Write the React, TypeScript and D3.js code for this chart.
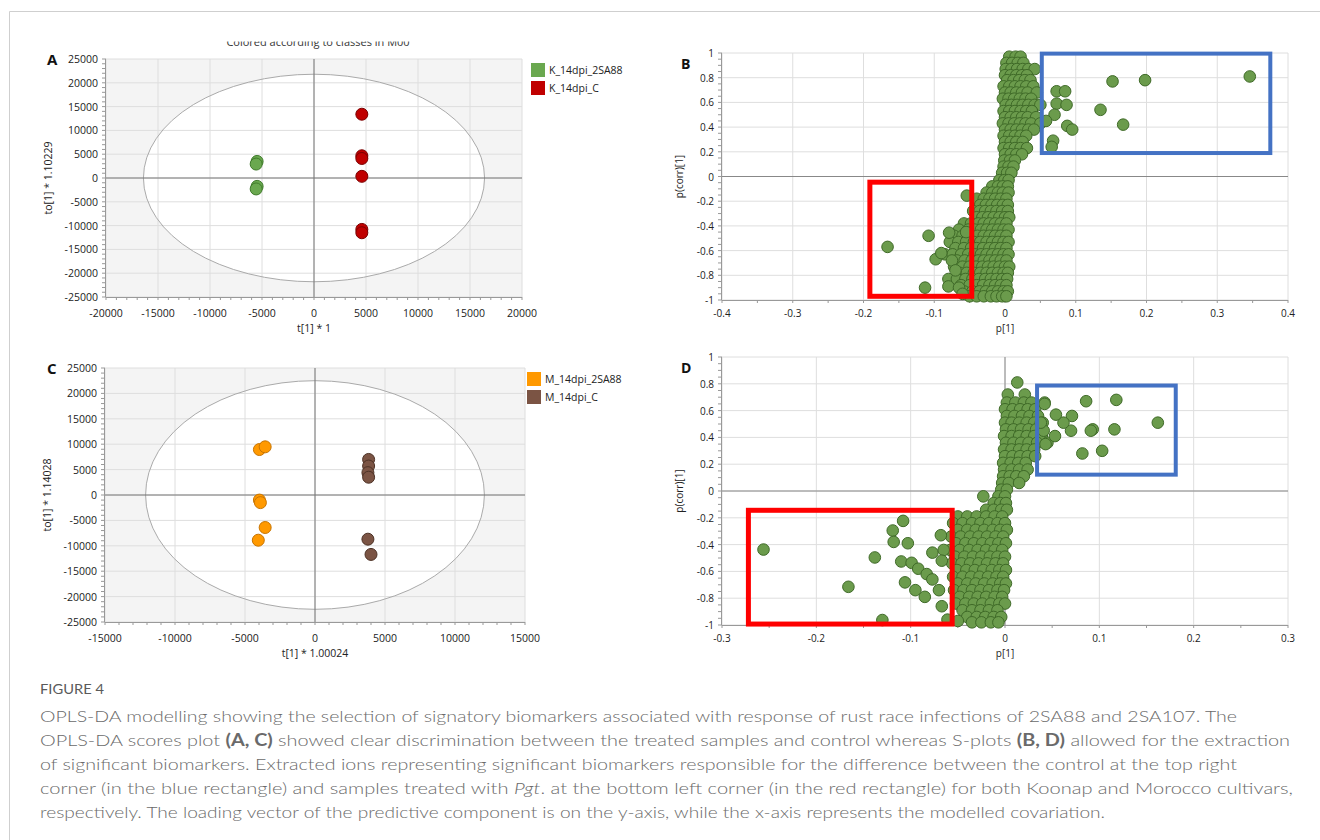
import React from 'react'
import * as d3 from 'd3'

type Pt = [number, number]
type Row = [number, number[]]

// ---- panel A / C scores ----
const aLegend = ['K_14dpi_2SA88', 'K_14dpi_C']
const aGreen: Pt[] = [[-5470, 3480], [-5560, 2930], [-5470, -1760], [-5560, -2300]]
const aRed: Pt[] = [[4600, 13400], [4600, 4670], [4600, 4100], [4600, 350], [4600, -10800], [4600, -11500]]
const aEllipse = [16400, 21800]

const cLegend = ['M_14dpi_2SA88', 'M_14dpi_C']
const cOrange: Pt[] = [[-3970, 8950], [-3560, 9480], [-3970, -1000], [-3900, -1500], [-3560, -6400], [-4050, -8900]]
const cBrown: Pt[] = [[3830, 7000], [3830, 5700], [3780, 4400], [3830, 3500], [3780, -8700], [4000, -11700]]
const cEllipse = [12100, 22500]

// ---- panel B S-plot (pcorr row -> p values) ----
const bRows: Row[] = [
  [0.97, [0.006, 0.015, 0.022]],
  [0.92, [0.002, 0.01, 0.018, 0.026]],
  [0.87, [0.001, 0.009, 0.017, 0.025, 0.033, 0.042]],
  [0.82, [0.0, 0.008, 0.016, 0.024, 0.031]],
  [0.78, [0.003, 0.012, 0.02, 0.028, 0.036]],
  [0.73, [-0.002, 0.006, 0.014, 0.022, 0.03, 0.04]],
  [0.68, [0.0, 0.008, 0.016, 0.024, 0.032, 0.045]],
  [0.63, [-0.003, 0.005, 0.013, 0.021, 0.029, 0.037]],
  [0.58, [0.001, 0.009, 0.017, 0.025, 0.033, 0.042, 0.05]],
  [0.53, [-0.002, 0.006, 0.014, 0.022, 0.03, 0.038]],
  [0.48, [0.0, 0.008, 0.016, 0.024, 0.032, 0.044]],
  [0.43, [-0.003, 0.005, 0.013, 0.021, 0.029, 0.037, 0.05]],
  [0.38, [0.0, 0.008, 0.016, 0.024, 0.033, 0.041]],
  [0.33, [-0.002, 0.006, 0.014, 0.022, 0.03]],
  [0.28, [0.0, 0.008, 0.016, 0.025]],
  [0.23, [-0.002, 0.006, 0.014, 0.022, 0.031]],
  [0.18, [0.0, 0.008, 0.016, 0.024]],
  [0.13, [-0.001, 0.007, 0.014]],
  [0.08, [-0.002, 0.005, 0.012]],
  [0.03, [-0.004, 0.003, 0.009]],
  [-0.03, [-0.008, -0.001, 0.005]],
  [-0.08, [-0.018, -0.01, -0.003, 0.004]],
  [-0.13, [-0.026, -0.018, -0.01, -0.003, 0.005]],
  [-0.18, [-0.04, -0.03, -0.022, -0.014, -0.006, 0.002]],
  [-0.23, [-0.035, -0.027, -0.019, -0.011, -0.003, 0.004]],
  [-0.28, [-0.045, -0.036, -0.028, -0.02, -0.012, -0.004, 0.004]],
  [-0.33, [-0.04, -0.032, -0.024, -0.016, -0.008, 0.0, 0.006]],
  [-0.38, [-0.058, -0.048, -0.038, -0.03, -0.022, -0.014, -0.006, 0.002]],
  [-0.43, [-0.065, -0.052, -0.043, -0.034, -0.026, -0.018, -0.01, -0.002, 0.005]],
  [-0.48, [-0.072, -0.06, -0.048, -0.039, -0.03, -0.022, -0.014, -0.006, 0.002]],
  [-0.53, [-0.078, -0.066, -0.055, -0.044, -0.035, -0.026, -0.018, -0.01, -0.002, 0.005]],
  [-0.58, [-0.07, -0.058, -0.048, -0.04, -0.031, -0.022, -0.014, -0.006, 0.002]],
  [-0.63, [-0.085, -0.074, -0.062, -0.052, -0.043, -0.034, -0.026, -0.018, -0.01, -0.002, 0.005]],
  [-0.68, [-0.068, -0.057, -0.047, -0.038, -0.03, -0.022, -0.014, -0.006, 0.002]],
  [-0.73, [-0.072, -0.06, -0.05, -0.041, -0.032, -0.024, -0.016, -0.008, 0.0, 0.006]],
  [-0.78, [-0.064, -0.054, -0.044, -0.035, -0.026, -0.018, -0.01, -0.002, 0.004]],
  [-0.83, [-0.08, -0.068, -0.056, -0.046, -0.037, -0.028, -0.02, -0.012, -0.004, 0.003]],
  [-0.88, [-0.062, -0.05, -0.04, -0.031, -0.022, -0.014, -0.006, 0.002]],
  [-0.93, [-0.058, -0.046, -0.036, -0.027, -0.018, -0.01, -0.002, 0.004]],
  [-0.97, [-0.05, -0.04, -0.03, -0.02, -0.012, -0.004, 0.002]],
]
const bOutliers: Pt[] = [
  [0.346, 0.81], [0.198, 0.78], [0.152, 0.77], [0.135, 0.54], [0.167, 0.42],
  [0.073, 0.69], [0.085, 0.69], [0.073, 0.59], [0.087, 0.58], [0.07, 0.5],
  [0.088, 0.41], [0.095, 0.38], [0.068, 0.29], [0.066, 0.24], [0.058, 0.45],
  [-0.166, -0.57], [-0.108, -0.48], [-0.098, -0.67], [-0.113, -0.9], [-0.08, -0.89],
  [-0.054, -0.155], [-0.079, -0.455], [-0.09, -0.62], [-0.075, -0.68], [-0.07, -0.76],
  [-0.065, -0.9], [-0.06, -0.95], [-0.055, -0.45],
]
const bBlueBox = [0.052, 0.375, 0.19, 0.995]
const bRedBox = [-0.191, -0.047, -0.97, -0.046]

// ---- panel D S-plot ----
const dRows: Row[] = [
  [0.81, [0.013]],
  [0.72, [0.003, 0.021]],
  [0.66, [0.002, 0.011, 0.02, 0.028, 0.042]],
  [0.61, [0.0, 0.008, 0.016, 0.024, 0.032]],
  [0.56, [0.002, 0.01, 0.018, 0.026, 0.035]],
  [0.51, [0.0, 0.007, 0.015, 0.023, 0.031, 0.04]],
  [0.46, [0.001, 0.009, 0.017, 0.025, 0.033]],
  [0.41, [-0.001, 0.007, 0.015, 0.023, 0.031, 0.039]],
  [0.36, [0.001, 0.009, 0.017, 0.025, 0.034, 0.045]],
  [0.31, [-0.001, 0.007, 0.015, 0.023, 0.031]],
  [0.26, [0.0, 0.008, 0.016, 0.024, 0.032]],
  [0.21, [-0.002, 0.006, 0.014, 0.022]],
  [0.16, [-0.001, 0.007, 0.015, 0.024]],
  [0.11, [-0.002, 0.005, 0.012, 0.02]],
  [0.06, [-0.003, 0.004, 0.015]],
  [0.01, [-0.004, 0.002]],
  [-0.04, [-0.023, -0.007, 0.0]],
  [-0.09, [-0.012, -0.005, 0.001]],
  [-0.14, [-0.02, -0.012, -0.004, 0.002]],
  [-0.19, [-0.05, -0.04, -0.03, -0.02, -0.011, -0.003]],
  [-0.24, [-0.055, -0.045, -0.035, -0.026, -0.017, -0.008, 0.0]],
  [-0.29, [-0.05, -0.04, -0.031, -0.022, -0.013, -0.005, 0.002]],
  [-0.34, [-0.057, -0.047, -0.037, -0.028, -0.019, -0.01, -0.002]],
  [-0.39, [-0.052, -0.042, -0.033, -0.024, -0.015, -0.007, 0.001]],
  [-0.44, [-0.058, -0.048, -0.038, -0.029, -0.02, -0.011, -0.003]],
  [-0.49, [-0.053, -0.043, -0.034, -0.025, -0.016, -0.008, 0.0]],
  [-0.54, [-0.056, -0.046, -0.037, -0.028, -0.019, -0.01, -0.002]],
  [-0.59, [-0.051, -0.041, -0.032, -0.023, -0.014, -0.006, 0.001]],
  [-0.64, [-0.055, -0.045, -0.036, -0.027, -0.018, -0.009, -0.002]],
  [-0.69, [-0.05, -0.04, -0.031, -0.022, -0.013, -0.005, 0.001]],
  [-0.74, [-0.054, -0.044, -0.035, -0.026, -0.017, -0.008, -0.001]],
  [-0.79, [-0.048, -0.038, -0.029, -0.02, -0.011, -0.003]],
  [-0.84, [-0.052, -0.042, -0.033, -0.024, -0.015, -0.006, 0.0]],
  [-0.89, [-0.045, -0.035, -0.026, -0.017, -0.008]],
  [-0.94, [-0.04, -0.03, -0.021, -0.012, -0.004]],
  [-0.98, [-0.035, -0.025, -0.015, -0.007]],
]
const dOutliers: Pt[] = [
  [0.118, 0.68], [0.086, 0.67], [0.162, 0.51], [0.116, 0.46], [0.093, 0.46],
  [0.091, 0.45], [0.103, 0.3], [0.082, 0.28], [0.07, 0.45], [0.071, 0.56],
  [0.062, 0.51], [0.054, 0.57], [0.053, 0.41], [0.042, 0.65], [0.043, 0.35],
  [0.041, 0.45], [0.038, 0.51],
  [-0.256, -0.437], [-0.166, -0.715], [-0.138, -0.496], [-0.13, -0.963], [-0.108, -0.223],
  [-0.119, -0.295], [-0.118, -0.38], [-0.103, -0.39], [-0.11, -0.526], [-0.106, -0.682],
  [-0.099, -0.536], [-0.092, -0.58], [-0.095, -0.74], [-0.083, -0.62], [-0.085, -0.79],
  [-0.077, -0.46], [-0.077, -0.66], [-0.07, -0.74], [-0.067, -0.86], [-0.068, -0.33],
  [-0.065, -0.44], [-0.067, -0.52], [-0.061, -0.96], [-0.05, -0.97],
]
const dBlueBox = [0.034, 0.181, 0.122, 0.787]
const dRedBox = [-0.272, -0.056, -0.993, -0.144]

const captionLines = [
  'OPLS-DA modelling showing the selection of signatory biomarkers associated with response of rust race infections of 2SA88 and 2SA107. The',
  'OPLS-DA scores plot |(A, C)| showed clear discrimination between the treated samples and control whereas S-plots |(B, D)| allowed for the extraction',
  'of significant biomarkers. Extracted ions representing significant biomarkers responsible for the difference between the control at the top right',
  'corner (in the blue rectangle) and samples treated with _Pgt_. at the bottom left corner (in the red rectangle) for both Koonap and Morocco cultivars,',
  'respectively. The loading vector of the predictive component is on the y-axis, while the x-axis represents the modelled covariation.',
]
const captionWidths = [1197, 1250, 1197, 1253, 1065]

const FONT = '"Open Sans", "Noto Sans", sans-serif'
const GRID = '#dedede'

type Box = { l: number; r: number; t: number; b: number }

const expand = (rows: Row[]): Pt[] => rows.flatMap(([pc, ps]) => ps.map((p) => [p, pc] as Pt))

function Ticks({ x, y, box, xMinor, yMinor }: any) {
  return (
    <g stroke="#999" strokeWidth={1}>
      <line x1={box.l - 0.5} x2={box.l - 0.5} y1={box.t} y2={box.b} />
      <line x1={box.l} x2={box.r} y1={box.b + 0.5} y2={box.b + 0.5} />
      {xMinor.map((v: number, i: number) => (
        <line key={'xm' + i} x1={x(v)} x2={x(v)} y1={box.b} y2={box.b + 3} />
      ))}
      {yMinor.map((v: number, i: number) => (
        <line key={'ym' + i} x1={box.l - 4} x2={box.l} y1={y(v)} y2={y(v)} />
      ))}
    </g>
  )
}

function ScorePanel(props: {
  letter: string
  box: Box
  xMax: number
  ellipse: number[]
  series: { pts: Pt[]; fill: string; stroke: string }[]
  legend: string[]
  legendX: number
  xTitle: string
  yTitle: string
}) {
  const { letter, box, xMax, ellipse, series, legend, legendX, xTitle, yTitle } = props
  const x = d3.scaleLinear().domain([-xMax, xMax]).range([box.l, box.r])
  const y = d3.scaleLinear().domain([-25000, 25000]).range([box.b, box.t])
  const xMajor = d3.range(-xMax, xMax + 1, 5000)
  const yMajor = d3.range(-25000, 25001, 5000)
  const xMinor = d3.range(-xMax, xMax + 1, 1000)
  const yMinor = d3.range(-25000, 25001, 1000)
  const cx = x(0)
  const cy = y(0)
  return (
    <g fontFamily={FONT}>
      <rect x={box.l} y={box.t} width={box.r - box.l} height={box.b - box.t} fill="#f4f4f4" />
      <ellipse cx={cx} cy={cy} rx={x(ellipse[0]) - cx} ry={cy - y(ellipse[1])} fill="#fff" />
      <g stroke={GRID} strokeWidth={1}>
        {xMajor.map((v) => (
          <line key={v} x1={x(v)} x2={x(v)} y1={box.t} y2={box.b} />
        ))}
        {yMajor.map((v) => (
          <line key={v} x1={box.l} x2={box.r} y1={y(v)} y2={y(v)} />
        ))}
      </g>
      <ellipse cx={cx} cy={cy} rx={x(ellipse[0]) - cx} ry={cy - y(ellipse[1])} fill="none" stroke="#aaa" strokeWidth={1} />
      <line x1={cx} x2={cx} y1={box.t} y2={box.b} stroke="#777" />
      <line x1={box.l} x2={box.r} y1={cy} y2={cy} stroke="#777" />
      <Ticks x={x} y={y} box={box} xMinor={xMinor} yMinor={yMinor} />
      {xMajor.map((v) => (
        <text key={v} x={x(v)} y={box.b + 20} textAnchor="middle" fontSize={10.5} fill="#222">
          {v}
        </text>
      ))}
      {yMajor.map((v) => (
        <text key={v} x={box.l - 8} y={y(v) + 4} textAnchor="end" fontSize={10.5} fill="#222">
          {v}
        </text>
      ))}
      <text x={(box.l + box.r) / 2} y={box.b + 35} textAnchor="middle" fontSize={10.5} fill="#222">
        {xTitle}
      </text>
      <text
        transform={`translate(${box.l - 54},${cy}) rotate(-90)`}
        textAnchor="middle"
        fontSize={10.5}
        fill="#222"
      >
        {yTitle}
      </text>
      <text x={47} y={box.t + 6} fontSize={15} fontWeight={700} fill="#111">
        {letter}
      </text>
      {series.map((s, i) => (
        <g key={i}>
          {s.pts.map((p, j) => (
            <circle key={j} cx={x(p[0])} cy={y(p[1])} r={6} fill={s.fill} stroke={s.stroke} strokeWidth={1} />
          ))}
        </g>
      ))}
      {legend.map((name, i) => (
        <g key={name}>
          <rect x={legendX} y={box.t + 4 + i * 18} width={14} height={14} fill={series[i].fill} />
          <text x={legendX + 18} y={box.t + 15 + i * 18} fontSize={10.5} fill="#222">
            {name}
          </text>
        </g>
      ))}
    </g>
  )
}

const fmt = (v: number) => (Math.abs(v) < 1e-9 ? '0' : String(+v.toFixed(1)))

function SPanel(props: {
  letter: string
  box: Box
  xMax: number
  pts: Pt[]
  blue: number[]
  red: number[]
}) {
  const { letter, box, xMax, pts, blue, red } = props
  const x = d3.scaleLinear().domain([-xMax, xMax]).range([box.l, box.r])
  const y = d3.scaleLinear().domain([-1, 1]).range([box.b, box.t])
  const xMajor = d3.range(-xMax, xMax + 0.0001, 0.1).map((v) => +v.toFixed(2))
  const yMajor = d3.range(-1, 1.0001, 0.2).map((v) => +v.toFixed(2))
  const xMinor = d3.range(-xMax, xMax + 0.0001, 0.05)
  const yMinor = d3.range(-1, 1.0001, 0.05)
  const cx = x(0)
  const cy = y(0)
  return (
    <g fontFamily={FONT}>
      <g stroke={GRID} strokeWidth={1}>
        {xMajor.map((v) => (
          <line key={v} x1={x(v)} x2={x(v)} y1={box.t} y2={box.b} />
        ))}
        {yMajor.map((v) => (
          <line key={v} x1={box.l} x2={box.r} y1={y(v)} y2={y(v)} />
        ))}
      </g>
      <line x1={cx} x2={cx} y1={box.t} y2={box.b} stroke="#888" />
      <line x1={box.l} x2={box.r} y1={cy} y2={cy} stroke="#888" />
      <Ticks x={x} y={y} box={box} xMinor={xMinor} yMinor={yMinor} />
      {xMajor.map((v) => (
        <text key={v} x={x(v)} y={box.b + 17} textAnchor="middle" fontSize={10} fill="#222">
          {fmt(v)}
        </text>
      ))}
      {yMajor.map((v) => (
        <text key={v} x={box.l - 8} y={y(v) + 4} textAnchor="end" fontSize={10} fill="#222">
          {fmt(v)}
        </text>
      ))}
      <text x={cx} y={box.b + 32} textAnchor="middle" fontSize={10} fill="#222">
        p[1]
      </text>
      <text transform={`translate(${box.l - 39},${cy}) rotate(-90)`} textAnchor="middle" fontSize={10} fill="#222">
        p(corr)[1]
      </text>
      <text x={681} y={box.t + 16} fontSize={14} fontWeight={700} fill="#111">
        {letter}
      </text>
      {pts.map((p, i) => (
        <circle key={i} cx={x(p[0])} cy={y(p[1])} r={5.8} fill="#6b9b4c" stroke="#3f6a28" strokeWidth={1} />
      ))}
      <rect
        x={x(blue[0])}
        y={y(blue[3])}
        width={x(blue[1]) - x(blue[0])}
        height={y(blue[2]) - y(blue[3])}
        fill="none"
        stroke="#4472c4"
        strokeWidth={4}
      />
      <rect
        x={x(red[0])}
        y={y(red[3])}
        width={x(red[1]) - x(red[0])}
        height={y(red[2]) - y(red[3])}
        fill="none"
        stroke="#ff0000"
        strokeWidth={5}
      />
    </g>
  )
}

function CaptionLine({ text, y, width }: { text: string; y: number; width: number }) {
  const parts = text.split(/(\|[^|]+\||_[^_]+_)/).filter((s) => s.length)
  return (
    <text x={40} y={y} fontSize={16.5} fill="#6a6a6a" fontWeight={300} textLength={width} lengthAdjust="spacingAndGlyphs" fontFamily="Lato, sans-serif">
      {parts.map((p, i) => {
        if (p.startsWith('|')) return <tspan key={i} fontWeight={700}>{p.slice(1, -1)}</tspan>
        if (p.startsWith('_')) return <tspan key={i} fontStyle="italic">{p.slice(1, -1)}</tspan>
        return <tspan key={i}>{p}</tspan>
      })}
    </text>
  )
}

export default function App() {
  const boxA = { l: 106, r: 522, t: 59, b: 297 }
  const boxC = { l: 105, r: 525, t: 368, b: 622 }
  const boxB = { l: 722, r: 1288, t: 53, b: 300 }
  const boxD = { l: 722, r: 1288, t: 357, b: 625 }
  return (
    <svg width={1320} height={840} style={{ position: 'absolute', left: 0, top: 0, background: '#fff' }}>
      <rect width={1320} height={840} fill="#fff" />
      <path d="M9.5,840 V11.5 H1320" fill="none" stroke="#cfcfcf" />
      <clipPath id="cut">
        <rect x={0} y={41.5} width={1320} height={8} />
      </clipPath>
      <text x={318} y={45.5} textAnchor="middle" fontSize={11} fill="#333" fontFamily={FONT} clipPath="url(#cut)">
        Colored according to classes in M00
      </text>
      <ScorePanel
        letter="A"
        box={boxA}
        xMax={20000}
        ellipse={aEllipse}
        series={[
          { pts: aGreen, fill: '#6aa84f', stroke: '#3f7a2a' },
          { pts: aRed, fill: '#c00000', stroke: '#7a0000' },
        ]}
        legend={aLegend}
        legendX={531}
        xTitle="t[1] * 1"
        yTitle="to[1] * 1.10229"
      />
      <ScorePanel
        letter="C"
        box={boxC}
        xMax={15000}
        ellipse={cEllipse}
        series={[
          { pts: cOrange, fill: '#ff9900', stroke: '#c87400' },
          { pts: cBrown, fill: '#7b5444', stroke: '#4d3226' },
        ]}
        legend={cLegend}
        legendX={527}
        xTitle="t[1] * 1.00024"
        yTitle="to[1] * 1.14028"
      />
      <SPanel letter="B" box={boxB} xMax={0.4} pts={[...expand(bRows), ...bOutliers]} blue={bBlueBox} red={bRedBox} />
      <SPanel letter="D" box={boxD} xMax={0.3} pts={[...expand(dRows), ...dOutliers]} blue={dBlueBox} red={dRedBox} />
      <text x={40} y={694} fontSize={12.5} fill="#5a5a5a" fontFamily="Lato, sans-serif" textLength={64} lengthAdjust="spacingAndGlyphs">
        FIGURE 4
      </text>
      {captionLines.map((line, i) => (
        <CaptionLine key={i} text={line} y={722 + i * 24} width={captionWidths[i]} />
      ))}
    </svg>
  )
}
